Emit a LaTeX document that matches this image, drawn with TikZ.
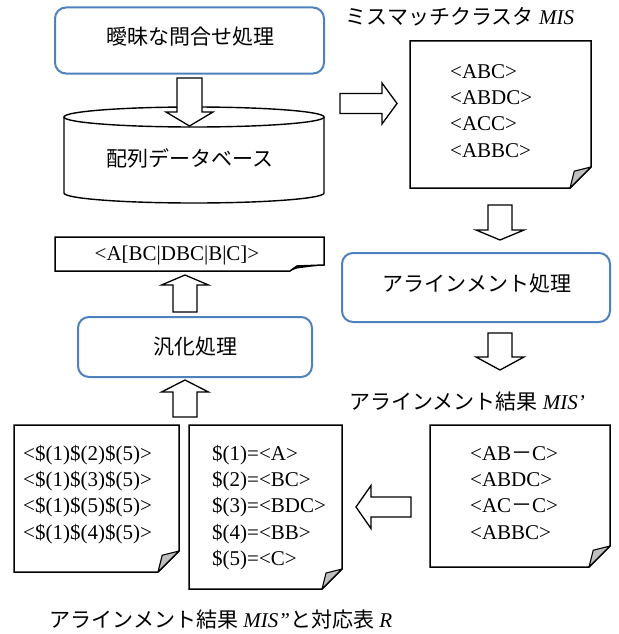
\documentclass[tikz,border=0pt]{standalone}
\usepackage{fontspec}
\setmainfont{Liberation Serif}
\newfontfamily\jp{Noto Sans CJK JP}
\definecolor{boxblue}{HTML}{4F81BD}
\definecolor{flapgray}{HTML}{BFBFBF}
\newcommand{\blockarrowv}[6]{% cx, tail, head base, tip, shaft half, head half
  \draw[blockarrow] (#1-#5,#2) -- (#1+#5,#2) -- (#1+#5,#3) -- (#1+#6,#3) -- (#1,#4)
    -- (#1-#6,#3) -- (#1-#5,#3) -- cycle;}
\newcommand{\blockarrowh}[6]{% cy, tail, head base, tip, shaft half, head half
  \draw[blockarrow] (#2,#1-#5) -- (#2,#1+#5) -- (#3,#1+#5) -- (#3,#1+#6) -- (#4,#1)
    -- (#3,#1-#6) -- (#3,#1-#5) -- cycle;}
\newcommand{\docpage}[5]{% x1,y1,x2,y2,fold
  \draw[docline] (#1,#2) -- (#3,#2) -- (#3,#4-#5) -- (#3-#5,#4) -- (#1,#4) -- cycle;
  \draw[flap] (#3,#4-#5) -- (#3-0.8*#5,#4-0.8*#5) -- (#3-#5,#4) -- cycle;}
\begin{document}
\begin{tikzpicture}[x=1pt,y=-1pt,
  bluebox/.style={draw=boxblue, line width=2pt, rounded corners=11pt, fill=white, inner sep=0pt},
  blockarrow/.style={draw=black, line width=1.3pt, fill=white, line join=miter},
  docline/.style={draw=black, line width=1.5pt, fill=white, line join=miter},
  flap/.style={draw=black, line width=1.1pt, fill=flapgray, line join=round},
  dbline/.style={draw=black, line width=1.4pt},
  lat/.style={font=\fontsize{21}{26}\selectfont, inner sep=0pt},
  jpt/.style={font=\fontsize{21}{26}\selectfont\jp, inner sep=0pt},
  line/.style={lat, anchor=base west}]
\useasboundingbox (0,0) rectangle (618,634);

% top query box
\node[bluebox, minimum width=269pt, minimum height=66pt] (q) at (189.5,40.5) {};
\node[jpt] (qt) at (190,37) {曖昧な問合せ処理};

% database cylinder
\fill[white] (64,117) -- (64,193) arc[start angle=180, end angle=360, x radius=130pt, y radius=10pt] -- (324,117) -- cycle;
\draw[dbline] (64,117) -- (64,193) arc[start angle=180, end angle=360, x radius=130pt, y radius=10pt] -- (324,117);
\draw[dbline] (194,117) ellipse[x radius=130pt, y radius=10pt];
\node[jpt] (db) at (190,158) {配列データベース};

% arrow query -> db
\blockarrowv{189.5}{78}{112}{126}{12.5}{23.5}

% arrow db -> MIS
\blockarrowh{103.5}{340}{382}{397}{10}{20.5}

% MIS label and document
\node[lat] (mislab) at (460,17) {{\jp ミスマッチクラスタ} \textit{MIS}};
\docpage{410}{41}{591}{188}{21}
\node[line] (m1) at (450,78) {<ABC>};
\node[line] (m2) at (450,104.3) {<ABDC>};
\node[line] (m3) at (450,130.6) {<ACC>};
\node[line] (m4) at (450,157) {<ABBC>};

% arrow MIS -> alignment
\blockarrowv{500}{205}{230}{240}{12}{24}

% alignment box
\node[bluebox, minimum width=268pt, minimum height=69pt] (al) at (476,287.5) {};
\node[jpt] (alt) at (477,284) {アラインメント処理};

% arrow alignment -> result
\blockarrowv{500}{333}{357}{370}{12}{24}

% MIS' label and document
\node[lat] (mis1lab) at (467,402) {{\jp アラインメント結果} \textit{MIS’}};
\docpage{430}{425}{610}{567}{21}
\node[line] (r1) at (470,460) {<AB{\jp －}C>};
\node[line] (r2) at (470,486.3) {<ABDC>};
\node[line] (r3) at (470,512.6) {<AC{\jp －}C>};
\node[line] (r4) at (470,539) {<ABBC>};

% arrow MIS' -> table
\blockarrowh{507}{411}{371}{356}{10}{21.5}

% table R document
\docpage{189}{425}{342}{589}{20}
\node[line] (t1) at (212,460) {\$(1)=<A>};
\node[line] (t2) at (212,486.3) {\$(2)=<BC>};
\node[line] (t3) at (212,512.6) {\$(3)=<BDC>};
\node[line] (t4) at (212,539) {\$(4)=<BB>};
\node[line] (t5) at (212,565.3) {\$(5)=<C>};

% MIS'' document
\docpage{14}{425}{179}{572}{21}
\node[line] (s1) at (23,460) {<\$(1)\$(2)\$(5)>};
\node[line] (s2) at (23,486.3) {<\$(1)\$(3)\$(5)>};
\node[line] (s3) at (23,512.6) {<\$(1)\$(5)\$(5)>};
\node[line] (s4) at (23,539) {<\$(1)\$(4)\$(5)>};

% bottom label
\node[lat] (botlab) at (221,620) {{\jp アラインメント結果} \textit{MIS”}{\jp と対応表} \textit{R}};

% arrow -> generalisation
\blockarrowv{185}{417}{392}{380}{12}{23.5}

% generalisation box
\node[bluebox, minimum width=234pt, minimum height=60pt] (gen) at (195,347) {};
\node[jpt] (gent) at (195,347) {汎化処理};

% arrow generalisation -> pattern
\blockarrowv{185}{312}{285}{275}{12}{23.5}

% pattern document
\draw[docline] (55,237) -- (324,237) -- (324,265) -- (297,266) -- (290,271) -- (55,271) -- cycle;
\fill[black] (290,271) -- (297,266) -- (324,265) -- (297,268.5) -- cycle;
\node[lat, anchor=base] (pat) at (177,260) {<A[BC|DBC|B|C]>};
\end{tikzpicture}
\end{document}
